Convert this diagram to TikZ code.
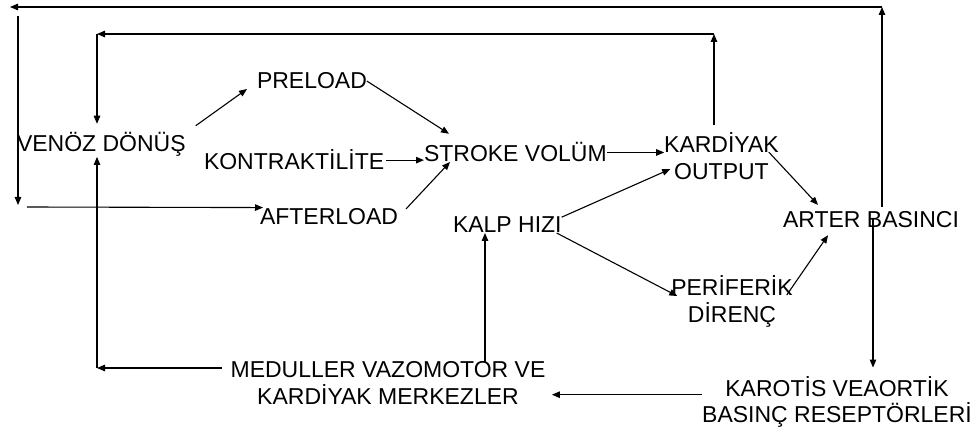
\documentclass[tikz,border=0pt]{standalone}
\usepackage{fontspec}
\setmainfont{Liberation Sans}
\usetikzlibrary{arrows.meta,calc}
\begin{document}
\begin{tikzpicture}[x=1pt,y=-1pt,
  lbl/.style={inner sep=0pt,outer sep=0pt,font=\fontsize{23}{27}\selectfont,align=center},
  arr/.style={line width=1.1pt,-{Triangle[length=8pt,width=6.5pt]}}]
\fill[white] (0,0) rectangle (980,435);
\useasboundingbox (0,0) rectangle (980,435);
% nodes
\node[lbl,anchor=base west] (venoz) at (17,152) {VENÖZ DÖNÜŞ};
\node[lbl,anchor=base west] (preload) at (257,89) {PRELOAD};
\node[lbl,anchor=base west] (kontr) at (204,170) {KONTRAKTİLİTE};
\node[lbl,anchor=base west] (stroke) at (424,162) {STROKE VOLÜM};
\node[lbl,anchor=base west] (after) at (260,225) {AFTERLOAD};
\node[lbl,anchor=base west] (kalp) at (453,233) {KALP HIZI};
\node[lbl,anchor=base west] (arter) at (783,228) {ARTER BASINCI};
\node[lbl,anchor=base] (kardiyak) at (721.5,180) {KARDİYAK\\OUTPUT};
\node[lbl,anchor=base] (periferik) at (732,323) {PERİFERİK\\DİRENÇ};
\node[lbl,anchor=base] (meduller) at (388,405) {MEDULLER VAZOMOTOR VE\\KARDİYAK MERKEZLER};
\node[lbl,anchor=base,font=\fontsize{23}{25.5}\selectfont] (karotis) at (837,422) {KAROTİS VEAORTİK\\BASINÇ RESEPTÖRLERİ};
% corner coordinates
\coordinate (tr) at (882,7);
\coordinate (tl) at (10,7);
\coordinate (lt) at (18,16);
\coordinate (lb) at (18,205);
\coordinate (la) at (27,207);
\coordinate (it) at (714,34);
\coordinate (il) at (97,34);
\coordinate (ad) at (873,218);
\coordinate (mv) at (97,368);
\coordinate (mk) at ([xshift=32pt]kalp.south west);
% outer loop
\draw[arr,shorten <=5pt] (arter.north -| tr) -- (tr);
\draw[arr] (tr) -- (tl);
\draw[arr] (lt) -- (lb);
\draw[arr] (la) -- ([shift={(3,-9.5)}]after.west);
% inner loop
\draw[arr,shorten <=8pt] (kardiyak.north -| it) -- (it);
\draw[arr] (it) -- (il);
\draw[arr,shorten >=9pt] (il) -- (venoz.north -| il);
% main flow
\draw[arr] ([shift={(10,-7)}]venoz.north east) -- ([xshift=-10pt]preload.base west);
\draw[arr] (preload.east) -- ([shift={(25,-9)}]stroke.north west);
\draw[arr,shorten <=2pt] (kontr.east) -- (kontr.east -| stroke.west);
\draw[arr] ([xshift=8pt]after.north east) -- ([xshift=26pt]stroke.base west);
\draw[arr] (stroke.east) -- (stroke.east -| kardiyak.west);
\draw[arr] (kalp.north east) -- ([shift={(6,12.5)}]kardiyak.west);
\draw[arr] ([xshift=-5pt]kalp.base east) -- ([shift={(6,20)}]periferik.north west);
\draw[arr] ([shift={(-10,-4.5)}]kardiyak.east) -- ([shift={(35,-7)}]arter.north west);
\draw[arr] ([shift={(-6,19)}]periferik.north east) -- ([shift={(45,7)}]arter.south west);
\draw[arr,shorten >=9pt] (ad) -- (ad |- karotis.north);
\draw[arr,shorten >=6.5pt] ([yshift=7pt]karotis.west) -- ([yshift=7pt]karotis.west -| meduller.east);
\draw[arr] (mk |- meduller.north) -- (mk);
\draw[arr,shorten <=9pt] (meduller.west |- mv) -- (mv);
\draw[arr] (mv) -- (venoz.south -| mv);
\end{tikzpicture}
\end{document}
